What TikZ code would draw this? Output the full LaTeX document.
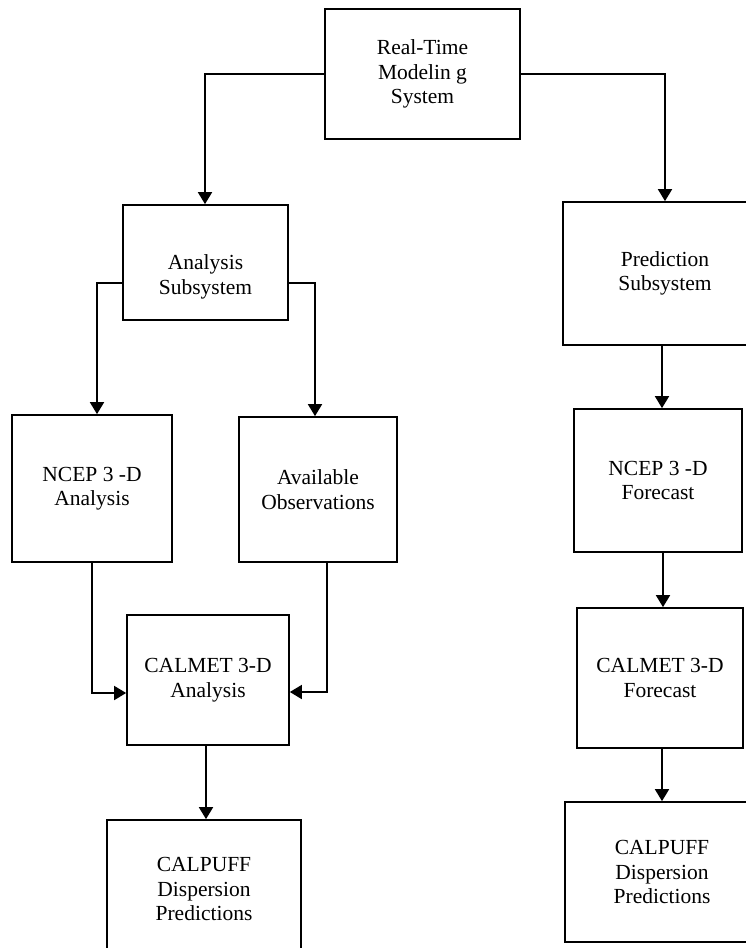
\documentclass[tikz,border=0pt]{standalone}
\usepackage{fontspec}
\setmainfont{Liberation Serif}
\usetikzlibrary{arrows.meta}
\begin{document}
\begin{tikzpicture}[x=1pt,y=-1pt,
  box/.style={draw=black,line width=1.7pt,inner sep=0pt,align=center,
    font=\fontsize{21.5}{24.5}\selectfont},
  conn/.style={draw=black,line width=1.7pt},
  arr/.style={conn,-{Triangle[width=14pt,length=12pt]}},
  lbl/.style={inner sep=0pt,align=center,font=\fontsize{21.5}{24.5}\selectfont}]
\useasboundingbox (0,0) rectangle (746,948);
\clip (0,0) rectangle (746,948);
% boxes
\node[box,minimum width=195pt,minimum height=130pt] (top) at (422.5,74) {Real-Time\\Modelin g\\System};
\node[box,minimum width=165pt,minimum height=115pt] (ana) at (205.5,262.5) {};
\node[lbl] (anatxt) at (205.5,277) {Analysis\\Subsystem};
\node[box,minimum width=204pt,minimum height=143pt] (pred) at (665,273.5) {Prediction\\Subsystem};
\node[box,minimum width=160pt,minimum height=147pt] (ncepA) at (92,488.5) {NCEP 3 -D\\Analysis};
\node[box,minimum width=158pt,minimum height=145pt] (obs) at (318,489.5) {Available\\Observations};
\node[box,minimum width=162pt,minimum height=130pt] (calA) at (208,680) {CALMET 3-D\\Analysis};
\node[box,minimum width=194pt,minimum height=138pt] (cpL) at (204,889) {CALPUFF\\Dispersion\\Predictions};
\node[box,minimum width=168pt,minimum height=143pt] (nf) at (658,480.5) {NCEP 3 -D\\Forecast};
\node[box,minimum width=166pt,minimum height=140pt] (cf) at (660,678) {CALMET 3-D\\Forecast};
\node[box,minimum width=194pt,minimum height=140pt] (cpR) at (662,872) {CALPUFF\\Dispersion\\Predictions};
% connectors
\draw[arr] (top.west) -| (ana.north -| 205,0);
\draw[arr] (top.east) -| (pred.north);
\draw[arr] (ana.west |- 0,283) -| (ncepA.north -| 97,0);
\draw[arr] (ana.east |- 0,283) -| (obs.north -| 315,0);
\draw[arr] (ncepA.south) |- (calA.west |- 0,693);
\draw[arr] (obs.south -| 327,0) |- (calA.east |- 0,692);
\draw[arr] (calA.south -| 206,0) -- (cpL.north -| 206,0);
\draw[arr] (pred.south -| 662,0) -- (nf.north -| 662,0);
\draw[arr] (nf.south -| 663,0) -- (cf.north -| 663,0);
\draw[arr] (cf.south -| 662,0) -- (cpR.north -| 662,0);
\end{tikzpicture}
\end{document}
